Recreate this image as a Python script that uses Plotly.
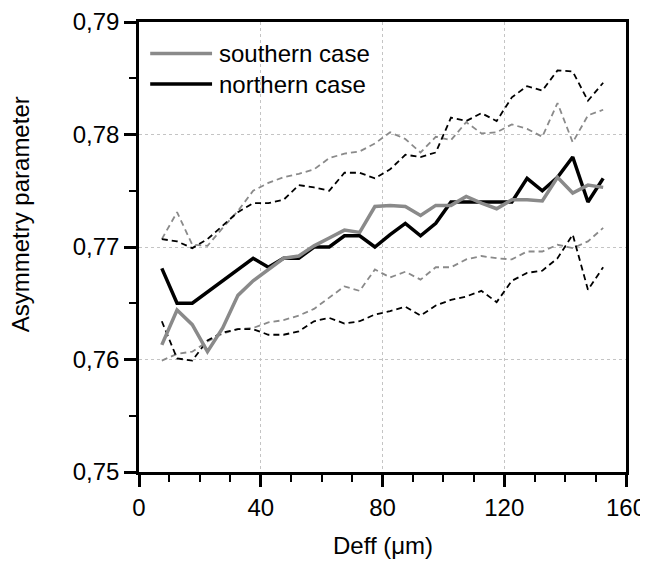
import plotly.graph_objects as go

# Deff bin centres (um)
deff = [7.5, 12.5, 17.5, 22.5, 27.5, 32.5, 37.5, 42.5, 47.5, 52.5,
        57.5, 62.5, 67.5, 72.5, 77.5, 82.5, 87.5, 92.5, 97.5, 102.5,
        107.5, 112.5, 117.5, 122.5, 127.5, 132.5, 137.5, 142.5, 147.5, 152.5]

# southern case: mean and spread
south_mean = [0.7613, 0.7644, 0.7631, 0.7607, 0.7628, 0.7657, 0.7670, 0.7680, 0.7690, 0.7692,
              0.7701, 0.7708, 0.7715, 0.7713, 0.7736, 0.7737, 0.7736, 0.7728, 0.7737, 0.7737,
              0.7745, 0.7739, 0.7734, 0.7742, 0.7742, 0.7741, 0.7762, 0.7748, 0.7755, 0.7753]
south_upper = [0.7707, 0.7731, 0.7702, 0.7701, 0.7717, 0.7732, 0.7750, 0.7757, 0.7762, 0.7765,
               0.7769, 0.7779, 0.7783, 0.7785, 0.7792, 0.7802, 0.7796, 0.7784, 0.7798, 0.7795,
               0.7811, 0.7801, 0.7802, 0.7809, 0.7805, 0.7798, 0.7828, 0.7793, 0.7817, 0.7822]
south_lower = [0.7599, 0.7605, 0.7607, 0.7616, 0.7623, 0.7627, 0.7628, 0.7633, 0.7635, 0.7639,
               0.7645, 0.7655, 0.7665, 0.7661, 0.7680, 0.7673, 0.7678, 0.7671, 0.7682, 0.7682,
               0.7689, 0.7692, 0.7690, 0.7689, 0.7696, 0.7696, 0.7702, 0.7699, 0.7705, 0.7717]

# northern case: mean and spread
north_mean = [0.7681, 0.7650, 0.7650, 0.7660, 0.7670, 0.7680, 0.7690, 0.7682, 0.7690, 0.7690,
              0.7700, 0.7700, 0.7710, 0.7710, 0.7700, 0.7711, 0.7721, 0.7710, 0.7721, 0.7740,
              0.7740, 0.7740, 0.7740, 0.7740, 0.7761, 0.7750, 0.7762, 0.7780, 0.7740, 0.7761]
north_upper = [0.7707, 0.7705, 0.7699, 0.7707, 0.7719, 0.7731, 0.7739, 0.7739, 0.7742, 0.7755,
               0.7753, 0.7750, 0.7766, 0.7766, 0.7761, 0.7769, 0.7782, 0.7780, 0.7784, 0.7815,
               0.7812, 0.7819, 0.7812, 0.7833, 0.7843, 0.7839, 0.7857, 0.7856, 0.7830, 0.7846]
north_lower = [0.7634, 0.7601, 0.7599, 0.7617, 0.7624, 0.7627, 0.7627, 0.7622, 0.7622, 0.7625,
               0.7634, 0.7637, 0.7632, 0.7634, 0.7640, 0.7643, 0.7647, 0.7639, 0.7648, 0.7653,
               0.7656, 0.7661, 0.7651, 0.7670, 0.7677, 0.7679, 0.7690, 0.7711, 0.7662, 0.7682]

GRAY = "#8a8a8a"
BLACK = "#000000"
FONT = "Liberation Sans, Arial, sans-serif"

fig = go.Figure()

def dashed(y, color):
    fig.add_trace(go.Scatter(x=deff, y=y, mode="lines", showlegend=False,
                             line=dict(color=color, width=1.8, dash="6px,4px")))

dashed(south_upper, GRAY)
dashed(south_lower, GRAY)
dashed(north_upper, BLACK)
dashed(north_lower, BLACK)

fig.add_trace(go.Scatter(x=deff, y=north_mean, mode="lines", name="northern case",
                         showlegend=False, line=dict(color=BLACK, width=3.5)))
fig.add_trace(go.Scatter(x=deff, y=south_mean, mode="lines", name="southern case",
                         showlegend=False, line=dict(color=GRAY, width=3.5)))

axis_common = dict(
    showline=True, linecolor="black", linewidth=2.5, mirror=True,
    ticks="outside", ticklen=12, tickwidth=2.5, tickcolor="black",
    showgrid=True, gridcolor="#c4c4c4", gridwidth=1, griddash="dot",
    zeroline=False, automargin=False, ticklabeloverflow="allow",
    tickfont=dict(family=FONT, size=24, color="black"),
)

fig.update_xaxes(range=[0, 160], tickvals=[0, 40, 80, 120, 160],
                 minor=dict(dtick=10, ticks="outside", ticklen=7, tickwidth=2,
                            tickcolor="black", showgrid=False),
                 **axis_common)
fig.update_yaxes(range=[0.75, 0.79], tickvals=[0.75, 0.76, 0.77, 0.78, 0.79],
                 tickformat=".2f",
                 minor=dict(dtick=0.005, ticks="outside", ticklen=7, tickwidth=2,
                            tickcolor="black", showgrid=False),
                 **axis_common)

# hand-made legend so the sample lines are long like the original
legend_items = [("southern case", GRAY, 0.930), ("northern case", BLACK, 0.862)]
for label, color, ly in legend_items:
    fig.add_shape(type="line", xref="paper", yref="paper",
                  x0=0.023, x1=0.150, y0=ly, y1=ly,
                  line=dict(color=color, width=3.5))
    fig.add_annotation(text=label, xref="paper", yref="paper", x=0.160, y=ly,
                       xanchor="left", yanchor="middle", showarrow=False,
                       font=dict(family=FONT, size=24, color="black"))

fig.add_annotation(text="Deff (μm)", xref="paper", yref="paper", x=0.5, y=-0.164,
                   xanchor="center", yanchor="middle", showarrow=False,
                   font=dict(family=FONT, size=24, color="black"))
fig.add_annotation(text="Asymmetry parameter", xref="paper", yref="paper",
                   x=-0.244, y=0.573, textangle=-90,
                   xanchor="center", yanchor="middle", showarrow=False,
                   font=dict(family=FONT, size=24, color="black"))

# the page body adds an 8px offset, so the figure is trimmed to end at the window edge
fig.update_layout(
    width=640, height=553,
    margin=dict(l=131, r=22, t=14, b=89),
    plot_bgcolor="white", paper_bgcolor="white",
    separators=", ",
    font=dict(family=FONT, size=24, color="black"),
)

fig.write_html("out.html")
